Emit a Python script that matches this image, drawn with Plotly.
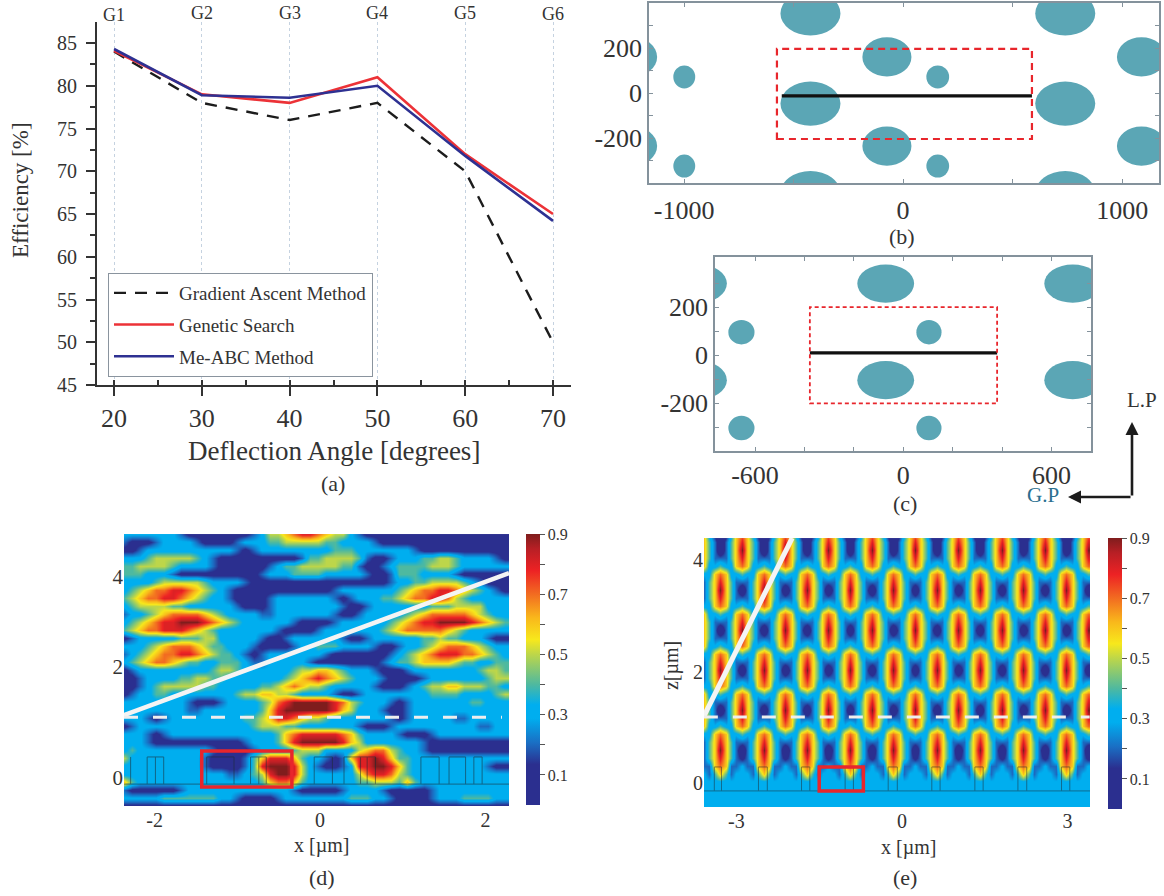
import plotly.graph_objects as go

W, H = 1164, 896
SY = 1.0125  # vertical placement factor for the page
SERIF = "Liberation Serif"
INK = "#333333"
TEAL = "#5BA6B5"
FRAME = "#84929c"

# ---------- panel (a) ----------
angles = [20, 30, 40, 50, 60, 70]
gradient = [84, 78, 76, 78, 70, 50]
genetic = [84.1, 79, 78, 81, 72, 65]
me_abc = [84.3, 78.9, 78.6, 80, 71.8, 64.2]
gratings = ["G1", "G2", "G3", "G4", "G5", "G6"]
grating_px_y = [15, 13, 13, 13, 13, 14]

# ---------- panel (b): centre x, centre y, radius x, radius y ----------
b_ellipses = [
    (-423, 354, 137, 98), (-423, -46, 137, 98), (-423, -443, 137, 98),
    (740, 354, 137, 98), (740, -46, 137, 98), (740, -443, 137, 98),
    (-74, 161, 112, 87), (-74, -234, 112, 87),
    (1088, 161, 112, 87), (1088, -234, 112, 87),
    (-1235, 161, 112, 87), (-1235, -234, 112, 87),
    (-999, 72, 50, 51), (-999, -323, 50, 51),
    (158, 72, 52, 51), (158, -323, 52, 51),
]
b_box = (-576, -203, 588, 197)
b_line_x = [-554, 588]
b_line_y = [-12, -12]

# ---------- panel (c) ----------
c_ellipses = [
    (-71, 299, 115, 80), (-71, -104, 115, 80),
    (686, 299, 115, 80), (686, -104, 115, 80),
    (-829, 299, 115, 80), (-829, -104, 115, 80),
    (104, 96, 51, 51), (104, -304, 51, 51),
    (-655, 96, 53, 51), (-655, -304, 53, 51),
]
c_box = (-378, -201, 380, 201)
c_line_x = [-378, 380]
c_line_y = [10, 10]

# ---------- panel (d): field, one digit = tenths ----------
d_rows = [
    "3333333 2111111112 3 55 6 7887 6 55 3 2111111111111111111",
    "21112 3333 211112 333 4455555443 333 21111111111111111",
    "112 33333333333 212 33333333 3 444 3333333 211111111111",
    "333 4555554 3 211111111112 4455554 2112 33 3445543 33321",
    "4455554 3333 21111112 3 445555544 2112 344445554 333333",
    "4443 33 211111111112 33 344443 3333 2112 44433 332111111",
    "3333 45555543 333 2111111111111111112 3 344555543 2111",
    "34 5677887654 3 21111111111112 3333 33 345677887654 321",
    "45677887654 33 211112 3333333 212 33 3445677887543 3333",
    "345555443 33333 21112 33333333 2112 3333333 4445555 333",
    "23 345677776543 333 22 3333333 2112 3333 3456777776543 3",
    "34 567889998765 43 33 333 211112 33 333 34 56788999987654",
    "456778887654 333 3333 211112 333333 3456777776543 3333",
    "123 333 34445533 333 2112 333333 2112 33333 344544333 211",
    "33 345677765443 332 11112 33444 3333 2112 334567776543 3",
    "23 45677887654 43 212 3333333 211111112 3456788877654 3",
    "345677654433 4443 22 333 33 2111111112 344566665443 3 44",
    "12 33333333 34554333 33 345566543 33 21112 33333333 4554",
    "112 333 3445 54433 3333 3456787654 333 211112 333333 3455",
    "1123 455555443 333 34456765543 3333 21112 3455665554 43",
    "1233 44333 3333 3455665543 333 2112 3333333 3444433 3 345",
    "33333333 21112 3333 45 789999987 54 333 212333 333344 333",
    "3333333322 3333333 4 6899999986 53 33211233 3333333333",
    "3332 12333 33333 3445 6887655 4333 3333212333332233333",
    "123 333333333 333 34555443 3333 33 21112 33333333332233",
    "33321233333 333333 334 678888876 43 33321112333333333",
    "33321 11111111112 333 4 689999986 53 333333 21111111111",
    "343 33333333 211112 333 345553 33 356775 433 21111111111",
    "53 33333333 211112 4688864 33212 6889864 433 3333333333",
    "3 333333333 211112 4899985 32112 3 88998 64 33 3333333211",
    "33 33333333 333223 4589985 33333 3578875 433 3333333333",
    "64 33333333333 333 3467764 33333 3445554 6 43 3333333333",
    "21111112 33333333 33333 2111112 3333 2111112 333333333",
    "33333 444444433 211112 33333333 44433 211112 333444433",
    "111111111111111111111111111111111111111111111111",
]
d_x0, d_dx = -2.37, 0.0979
d_y0, d_dy = 4.856, -0.1592
d_ticks_z = [0, 2.21, 4]
d_white_x = [-2.37, 2.285]
d_white_z = [1.25, 4.08]
d_dash_x = [-2.37, 2.2]
d_dash_z = [1.21, 1.21]
d_red_box = (-1.43, -0.18, -0.34, 0.54)
d_walls = [-2.29, -2.09, -1.99, -1.89, -1.37, -1.04, -0.84, -0.74, -0.65, -0.07,
           0.15, 0.29, 0.49, 0.57, 0.67, 1.22, 1.44, 1.56, 1.76, 1.86, 1.96]
d_caps = [(-2.09, -1.89), (-1.37, -1.04), (-0.84, -0.65), (-0.07, 0.15), (0.29, 0.67),
          (1.22, 1.44), (1.56, 1.76), (1.86, 1.96)]
d_wall_span = (-0.12, 0.42)

# ---------- panel (e) ----------
e_rows = [
    "63101367 63101367 63101367 63101367 63101367 63101367 63101367 63101367 63101367",
    "64202468 64202468 64202468 64202468 64202468 64202468 64202468 64202468 64202468",
    "64202469 64202469 64202469 64202469 64202469 64202469 64202469 64202469 64202469",
    "64222468 64222468 64222468 64222468 64222468 64222468 64222468 64222468 64222468",
    "63343367 63343367 63343367 63343367 63343367 63343367 63343367 63343367 63343367",
    "33676334 33676334 33676334 33676334 33676334 33676334 33676334 33676334 33676334",
    "24686422 24686422 24686422 24686422 24686422 24686422 24686422 24686422 24686422",
    "24696420 24696420 24696420 24696420 24696420 24696420 24696420 24696420 24696420",
    "24686422 24686422 24686422 24686422 24686422 24686422 24686422 24686422 24686422",
    "33676334 33676334 33676334 33676334 33676334 33676334 33676334 33676334 33676334",
    "63343367 63343367 63343367 63343367 63343367 63343367 63343367 63343367 63343367",
    "64222468 64222468 64222468 64222468 64222468 64222468 64222468 64222468 64222468",
    "64202469 64202469 64202469 64202469 64202469 64202469 64202469 64202469 64202469",
    "64222468 64222468 64222468 64222468 64222468 64222468 64222468 64222468 64222468",
    "63343367 63343367 63343367 63343367 63343367 63343367 63343367 63343367 63343367",
    "33676334 33676334 33676334 33676334 33676334 33676334 33676334 33676334 33676334",
    "24686422 24686422 24686422 24686422 24686422 24686422 24686422 24686422 24686422",
    "24696420 24696420 24696420 24696420 24696420 24696420 24696420 24696420 24696420",
    "24686422 24686422 24686422 24686422 24686422 24686422 24686422 24686422 24686422",
    "33676334 33676334 33676334 33676334 33676334 33676334 33676334 33676334 33676334",
    "63343367 63343367 63343367 63343367 63343367 63343367 63343367 63343367 63343367",
    "64222468 64222468 64222468 64222468 64222468 64222468 64222468 64222468 64222468",
    "64202469 64202469 64202469 64202469 64202469 64202469 64202469 64202469 64202469",
    "64222468 64222468 64222468 64222468 64222468 64222468 64222468 64222468 64222468",
    "63343367 63343367 63343367 63343367 63343367 63343367 63343367 63343367 63343367",
    "33676334 33676334 33676334 33676334 33676334 33676334 33676334 33676334 33676334",
    "24686422 24686422 24686422 24686422 24686422 24686422 24686422 24686422 24686422",
    "24696420 24696420 24696420 24696420 24696420 24696420 24696420 24696420 24696420",
    "24686421 24686421 24686421 24686421 24686421 24686421 24686421 24686421 24686421",
    "22676223 22676223 22676223 22676223 22676223 22676223 22676223 22676223 22676223",
    "32464233 32464233 32464233 32464233 32464233 32464233 32464233 32464233 32464233",
    "33333333 33333333 33333333 33333333 33333333 33333333 33333333 33333333 33333333",
    "33333333 33333333 33333333 33333333 33333333 33333333 33333333 33333333 33333333",
    "33333333 33333333 33333333 33333333 33333333 33333333 33333333 33333333 33333333",
    "33333333 33333333 33333333 33333333 33333333 33333333 33333333 33333333 33333333",
]
e_x0, e_dx = -3.587, 0.098
e_y0, e_dy = 4.47, -0.1436
e_white_x = [-3.59, -1.99]
e_white_z = [1.2, 4.4]
e_dash_x = [-3.59, 3.4]
e_dash_z = [1.185, 1.185]
e_red_box = (-1.5, -0.14, -0.7, 0.29)
e_walls = [-3.40, -3.27, -2.60, -2.44, -1.82, -1.67, -1.03, -0.88, -0.25, -0.085,
           0.54, 0.69, 1.32, 1.47, 2.10, 2.26, 2.89, 3.04]
e_caps = [(-3.40, -3.27), (-2.60, -2.44), (-1.82, -1.67), (-1.03, -0.88), (-0.25, -0.085),
          (0.54, 0.69), (1.32, 1.47), (2.10, 2.26), (2.89, 3.04)]
e_wall_span = (-0.14, 0.29)

cbar_vals = [0.1, 0.2, 0.3, 0.4, 0.5, 0.6, 0.7, 0.8, 0.9]
cbar_text = ["0.1", "", "0.3", "", "0.5", "", "0.7", "", "0.9"]

FIELD = [
    [0.0, "#2b2f8f"], [0.15, "#2b2f8f"], [0.23, "#1a6fc4"], [0.32, "#00aeef"],
    [0.37, "#00aeef"], [0.445, "#4fb99f"], [0.555, "#bcd64a"], [0.61, "#f7e81c"],
    [0.69, "#f9b81b"], [0.78, "#f26a21"], [0.865, "#ed2224"], [0.945, "#b81f25"],
    [1.0, "#7f1d1d"],
]


def dom(a, b, n):
    return [a / n, b / n]


def ydom(top, bottom):
    return [1 - bottom * SY / H, 1 - top * SY / H]


def parse(rows, n):
    out = []
    for r in rows:
        s = r.replace(" ", "")[:n].ljust(n, "3")
        out.append([int(c) / 10 for c in s])
    return out


def ellipse_shapes(items, xr, yr):
    return [dict(type="circle", xref=xr, yref=yr, x0=cx - rx, x1=cx + rx, y0=cy - ry, y1=cy + ry,
                 fillcolor=TEAL, line=dict(width=0), layer="below") for cx, cy, rx, ry in items]


def wall_lines(walls, caps, span, left, right):
    xs, ys = [left, right, None], [span[0], span[0], None]
    for w in walls:
        xs += [w, w, None]
        ys += [span[0], span[1], None]
    for a, b in caps:
        xs += [a, b, None]
        ys += [span[1], span[1], None]
    return xs, ys


def field_bar(left, top):
    return dict(x=left / W, xanchor="left", y=1 - top * SY / H, yanchor="top", len=268 * SY, lenmode="pixels",
                thickness=14, xpad=0, ypad=0, outlinewidth=0, tickvals=cbar_vals, ticktext=cbar_text,
                ticks="outside", ticklen=5, tickcolor="#555555", tickfont=dict(family=SERIF, size=16, color=INK))


fig = go.Figure()

# (a)
fig.add_trace(go.Scatter(x=angles, y=gradient, name="Gradient Ascent Method", mode="lines", legendgroup="g1",
                         line=dict(color="#1c1c1c", width=2.4, dash="12px,9px"), xaxis="x", yaxis="y"))
fig.add_trace(go.Scatter(x=angles, y=genetic, name="Genetic Search", mode="lines", legendgroup="g2",
                         line=dict(color="#ec3237", width=2.6), xaxis="x", yaxis="y"))
fig.add_trace(go.Scatter(x=angles, y=me_abc, name="Me-ABC Method", mode="lines", legendgroup="g3",
                         line=dict(color="#2e3192", width=2.6), xaxis="x", yaxis="y"))

# (b), (c)
fig.add_trace(go.Scatter(x=b_line_x, y=b_line_y, mode="lines", showlegend=False,
                         line=dict(color="#111111", width=3.2), xaxis="x2", yaxis="y2"))
fig.add_trace(go.Scatter(x=c_line_x, y=c_line_y, mode="lines", showlegend=False,
                         line=dict(color="#111111", width=3.2), xaxis="x3", yaxis="y3"))

# (d)
dz = parse(d_rows, 48)
dx = [d_x0 + d_dx * j for j in range(48)]
dy = [d_y0 + d_dy * i for i in range(len(dz))]
fig.add_trace(go.Heatmap(z=dz[::-1], x=dx, y=dy[::-1], zmin=0, zmax=0.9, zsmooth="best", colorscale=FIELD,
                         xaxis="x4", yaxis="y4", colorbar=field_bar(526, 534)))
xs, ys = wall_lines(d_walls, d_caps, d_wall_span, -2.37, 2.285)
fig.add_trace(go.Scatter(x=xs, y=ys, mode="lines", showlegend=False, line=dict(color="#1d2a33", width=1),
                         opacity=0.55, xaxis="x4", yaxis="y4"))
fig.add_trace(go.Scatter(x=d_white_x, y=d_white_z, mode="lines", showlegend=False,
                         line=dict(color="#f4f4f4", width=4.5), xaxis="x4", yaxis="y4"))
fig.add_trace(go.Scatter(x=d_dash_x, y=d_dash_z, mode="lines", showlegend=False,
                         line=dict(color="#eeeeee", width=3, dash="14px,15px"), xaxis="x4", yaxis="y4"))

# (e)
ez = parse(e_rows, 72)
ex = [e_x0 + e_dx * j for j in range(72)]
ey = [e_y0 + e_dy * i for i in range(len(ez))]
fig.add_trace(go.Heatmap(z=ez[::-1], x=ex, y=ey[::-1], zmin=0, zmax=0.9, zsmooth="best", colorscale=FIELD,
                         xaxis="x5", yaxis="y5", colorbar=field_bar(1108, 538)))
xs, ys = wall_lines(e_walls, e_caps, e_wall_span, -3.587, 3.406)
fig.add_trace(go.Scatter(x=xs, y=ys, mode="lines", showlegend=False, line=dict(color="#1d2a33", width=1),
                         opacity=0.5, xaxis="x5", yaxis="y5"))
fig.add_trace(go.Scatter(x=e_white_x, y=e_white_z, mode="lines", showlegend=False,
                         line=dict(color="#f4f4f4", width=5), xaxis="x5", yaxis="y5"))
fig.add_trace(go.Scatter(x=e_dash_x, y=e_dash_z, mode="lines", showlegend=False,
                         line=dict(color="#eeeeee", width=3, dash="14px,15px"), xaxis="x5", yaxis="y5"))

shapes = ellipse_shapes(b_ellipses, "x2", "y2") + ellipse_shapes(c_ellipses, "x3", "y3")
shapes.append(dict(type="rect", xref="x2", yref="y2", x0=b_box[0], y0=b_box[1], x1=b_box[2], y1=b_box[3],
                   line=dict(color="#e8262c", width=2.2, dash="7px,5px")))
shapes.append(dict(type="rect", xref="x3", yref="y3", x0=c_box[0], y0=c_box[1], x1=c_box[2], y1=c_box[3],
                   line=dict(color="#e8262c", width=1.8, dash="4px,3px")))
for box, xr, yr in [(d_red_box, "x4", "y4"), (e_red_box, "x5", "y5")]:
    shapes.append(dict(type="rect", xref=xr, yref=yr, x0=box[0], y0=box[1], x1=box[2], y1=box[3],
                       line=dict(color="#e8262c", width=3.5)))


def note(text, px, py, size=22, color=INK, angle=0):
    return dict(text=text, x=px / W, y=1 - py * SY / H, xref="paper", yref="paper", xanchor="center", yanchor="middle",
                showarrow=False, textangle=angle, font=dict(family=SERIF, size=size, color=color))


annotations = [
    note("Deflection Angle [degrees]", 334, 451, 27),
    note("Efficiency [%]", 20, 190, 23, angle=-90),
    note("x [µm]", 321, 845, 20),
    note("x [µm]", 908, 847, 20),
    note("z[µm]", 671, 665, 20, angle=-90),
    note("(a)", 333, 483), note("(b)", 902, 236), note("(c)", 905, 503), note("(d)", 322, 877), note("(e)", 905, 877),
    note("L.P", 1142, 400, 21), note("G.P", 1043, 495, 21, color="#2b6f90"),
    dict(x=1132 / W, y=1 - 422 * SY / H, xref="paper", yref="paper", ax=0, ay=75, showarrow=True, text="",
         arrowhead=2, arrowwidth=2.6, arrowsize=1, arrowcolor="#1c1c1c"),
    dict(x=1068 / W, y=1 - 497 * SY / H, xref="paper", yref="paper", ax=64, ay=0, showarrow=True, text="",
         arrowhead=2, arrowwidth=2.6, arrowsize=1, arrowcolor="#1c1c1c"),
]
for a, label, py in zip(angles, gratings, grating_px_y):
    annotations.append(dict(text=label, x=a, xref="x", y=1 - py * SY / H, yref="paper", xanchor="center", yanchor="middle",
                            showarrow=False, font=dict(family=SERIF, size=18, color=INK)))

axis_frame = dict(showline=True, linecolor=FRAME, linewidth=1.5, mirror="allticks", ticks="inside", ticklen=4,
                  tickcolor=FRAME, showgrid=False, zeroline=False)
field_axis = dict(showline=False, ticks="", showgrid=False, zeroline=False)

fig.update_layout(
    width=W, height=H, margin=dict(l=0, r=0, t=0, b=0), paper_bgcolor="white", plot_bgcolor="white",
    shapes=shapes, annotations=annotations,
    legend=dict(x=108 / W, y=1 - 273 * SY / H, xanchor="left", yanchor="top", bgcolor="white", bordercolor="#8a949e",
                borderwidth=1, font=dict(family=SERIF, size=19, color=INK), tracegroupgap=4, itemwidth=60,
                traceorder="grouped"),
    xaxis=dict(domain=dom(97, 571, W), range=[18.06, 72.05], tickvals=angles, showline=True, linecolor=INK, linewidth=2,
               ticks="outside", ticklen=9, tickcolor=INK, tickwidth=1.5, showgrid=True, gridcolor="#c5d2e0", griddash="3px,3px",
               gridwidth=0.8, zeroline=False, tickfont=dict(family=SERIF, size=26, color=INK),
               minor=dict(ticks="inside", ticklen=5, dtick=5, tick0=20, tickcolor=INK, showgrid=False)),
    yaxis=dict(domain=ydom(22, 385), range=[45, 87.46], tickvals=[45, 50, 55, 60, 65, 70, 75, 80, 85], showline=True,
               linecolor=INK, linewidth=2, ticks="outside", ticklen=9, tickcolor=INK, tickwidth=1.5, showgrid=False, zeroline=False,
               ticklabelstandoff=5, tickfont=dict(family=SERIF, size=20, color=INK),
               minor=dict(ticks="outside", ticklen=5, dtick=2.5, tick0=45, tickcolor=INK, showgrid=False)),
    xaxis2=dict(domain=dom(649, 1159, W), range=[-1160, 1168], anchor="y2", tickvals=[-1000, -500, 0, 500, 1000],
                ticktext=["-1000", "", "0", "", "1000"], tickfont=dict(family=SERIF, size=26, color=INK),
                ticklabelstandoff=3, **axis_frame),
    yaxis2=dict(domain=ydom(3, 183), range=[-398, 400], anchor="x2", tickvals=[-300, -200, -100, 0, 100, 200, 300],
                ticktext=["", "-200", "", "0", "", "200", ""], tickfont=dict(family=SERIF, size=26, color=INK), **axis_frame),
    xaxis3=dict(domain=dom(715, 1091, W), range=[-762, 760], anchor="y3", tickvals=[-600, -400, -200, 0, 200, 400, 600],
                ticktext=["-600", "", "", "0", "", "", "600"], tickfont=dict(family=SERIF, size=26, color=INK),
                **axis_frame),
    yaxis3=dict(domain=ydom(257, 451), range=[-400, 410], anchor="x3", tickvals=[-300, -200, -100, 0, 100, 200, 300],
                ticktext=["", "-200", "", "0", "", "200", ""], tickfont=dict(family=SERIF, size=26, color=INK), **axis_frame),
    xaxis4=dict(domain=dom(124, 509, W), range=[-2.37, 2.285], anchor="y4", tickvals=[-2, 0, 2], ticktext=["-2", "0", "2"],
                tickfont=dict(family=SERIF, size=20, color=INK), **field_axis),
    yaxis4=dict(domain=ydom(534, 806), range=[-0.557, 4.856], anchor="x4", tickvals=d_ticks_z, ticktext=["0", "2", "4"],
                tickfont=dict(family=SERIF, size=21, color=INK), **field_axis),
    xaxis5=dict(domain=dom(704, 1090, W), range=[-3.587, 3.406], anchor="y5", tickvals=[-3, 0, 3], ticktext=["-3", "0", "3"],
                tickfont=dict(family=SERIF, size=20, color=INK), **field_axis),
    yaxis5=dict(domain=ydom(538, 807), range=[-0.43, 4.40], anchor="x5", tickvals=[0, 2, 4], ticktext=["0", "2", "4"],
                tickfont=dict(family=SERIF, size=20, color=INK), **field_axis),
)

fig.write_html("out.html", post_script="document.body.style.margin='0';", config={"displayModeBar": False})
